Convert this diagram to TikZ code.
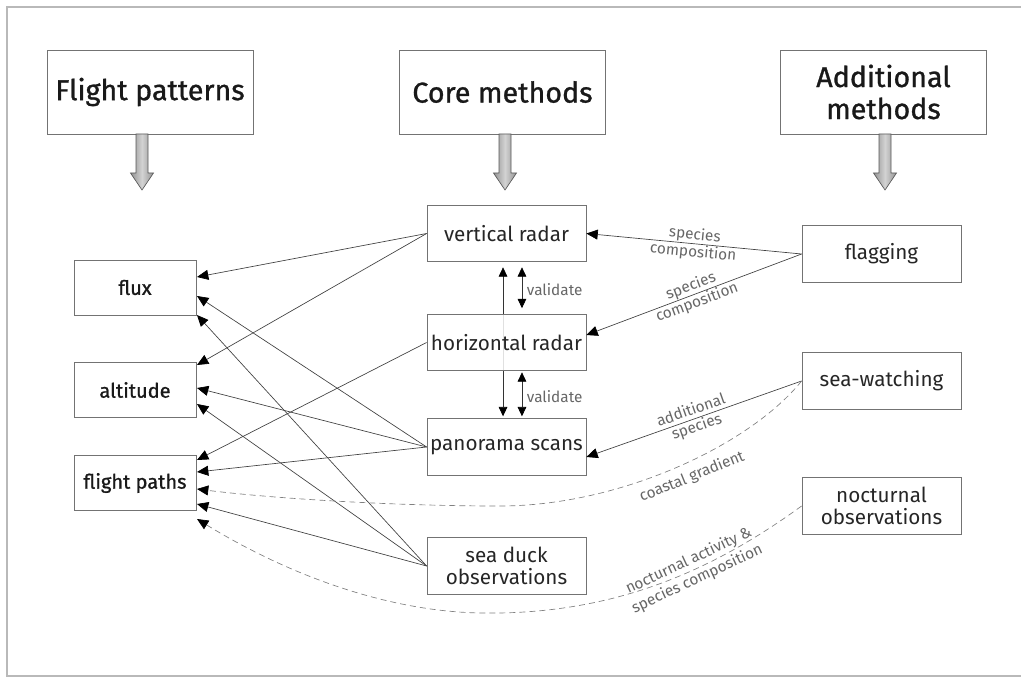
\documentclass[tikz,border=0pt]{standalone}
\usepackage{fontspec}
\setmainfont{Fira Sans}
\newfontfamily\headfont{Fira Sans}[FakeBold=1.0]
\usetikzlibrary{arrows.meta,calc,backgrounds}

\begin{document}
\begin{tikzpicture}[x=0.75pt,y=-0.75pt,
  header/.style={draw=black!55, line width=0.6pt, fill=white, inner sep=0pt,
    minimum width=154.5pt, minimum height=63pt, align=center, text=black!90,
    font=\headfont\fontsize{21.5}{24}\selectfont},
  pattern/.style={draw=black!55, line width=0.6pt, fill=white, inner sep=0pt,
    minimum width=91.5pt, minimum height=41.25pt, align=center, text=black!90,
    font=\headfont\fontsize{15}{18}\selectfont},
  method/.style={draw=black!55, line width=0.6pt, fill=white, inner sep=0pt,
    minimum width=119.25pt, minimum height=42.5pt, align=center, text=black!85,
    font=\fontsize{15.5}{17}\selectfont},
  lbl/.style={font=\fontsize{11.5}{13}\selectfont, text=black!60, align=center, inner sep=0.5pt},
  tip/.style={Triangle[length=8.5pt,width=7.5pt,color=black]},
  conn/.style={draw=black!75, line width=0.5pt, -{Triangle[length=8.5pt,width=7.5pt,color=black]}},
  dashconn/.style={draw=black!50, line width=0.5pt, dash pattern=on 4.5pt off 3pt,
    -{Triangle[length=8.5pt,width=7.5pt,color=black]}},
  valarrow/.style={draw=black!80, line width=0.5pt,
    {Triangle[length=7pt,width=6.5pt,color=black]}-{Triangle[length=7pt,width=6.5pt,color=black]}},
  blockarrow/.style={left color=gray!85, right color=gray!85, middle color=gray!35,
    draw=black!65, line width=0.5pt}
]
\useasboundingbox (0,0) rectangle (1021,677);

% outer frame
\draw[gray!55, line width=0.9pt] (1022,7) -- (7,7) -- (7,676) -- (1022,676);

% column headers
\node[header] (hfp) at (150,92)   {Flight patterns};
\node[header] (hcm) at (502.5,92) {Core methods};
\node[header] (ham) at (883.5,92) {Additional\\methods};

% shaded block arrows below the headers
\foreach \cx in {142,505,885}{
  \shadedraw[blockarrow] (\cx-6,134) -- (\cx+6,134) -- (\cx+6,173) -- (\cx+11.5,173)
    -- (\cx,190) -- (\cx-11.5,173) -- (\cx-6,173) -- cycle;
}

% flight pattern boxes
\node[pattern] (flux) at (135,287.5) {flux};
\node[pattern] (alt)  at (135,390)   {altitude};
\node[pattern] (fp)   at (135,483)   {flight paths};

% core method boxes
\node[method] (vr) at (506.5,233.5) {vertical radar};
\node[method, fill opacity=0.85, text opacity=1] (hr) at (506.5,342.5) {horizontal radar};
\node[method] (ps) at (506.5,447)   {panorama scans};
\node[method] (sd) at (506.5,566)   {sea duck\\observations};

% additional method boxes
\node[method] (fl) at (881.5,254) {flagging};
\node[method] (sw) at (881.5,381) {sea-watching};
\node[method] (no) at (881.5,506) {nocturnal\\observations};

% arrow end points on the right side of the flight pattern boxes
\coordinate (fx1) at (197,277);
\coordinate (fx2) at (197,296);
\coordinate (fx3) at (197,315);
\coordinate (al1) at (197,365);
\coordinate (al2) at (197,388);
\coordinate (al3) at (197,404);
\coordinate (fp1) at (197,460);
\coordinate (fp2) at (197,472);
\coordinate (fp3) at (197,489);
\coordinate (fp4) at (197,504);
\coordinate (fp5) at (197,519);

% core methods feeding the flight patterns
\draw[conn] (vr.west) -- (fx1);
\draw[conn] (vr.west) -- (al1);
\draw[conn] (hr.west) -- (fp1);
\draw[conn] (ps.west) -- (fx2);
\draw[conn] (ps.west) -- (al2);
\draw[conn] (ps.west) -- (fp2);
\draw[conn] (sd.west) -- (fx3);
\draw[conn] (sd.west) -- (al3);
\draw[conn] (sd.west) -- (fp4);

% validation between the radar systems and the panorama scans
\begin{scope}[on background layer]
  \draw[valarrow] ([xshift=-2.6pt,yshift=-3.8pt]vr.south) -- ([xshift=-2.6pt,yshift=1.5pt]ps.north);
\end{scope}
\draw[valarrow] ([xshift=11.6pt,yshift=-3.8pt]vr.south) -- ([xshift=11.6pt,yshift=4.2pt]hr.north);
\draw[valarrow] ([xshift=11.6pt,yshift=-0.8pt]hr.south) -- ([xshift=11.6pt,yshift=1.5pt]ps.north);
\node[lbl, anchor=west] (v1) at (526,290) {validate};
\node[lbl, anchor=west] (v2) at (526,397) {validate};

% additional methods feeding the core methods
\draw[conn] (fl.west) -- node[lbl, sloped, midway] {species\\composition} (vr.east);
\draw[conn] (fl.west) -- node[lbl, sloped, midway] {species\\composition} ([yshift=5.6pt]hr.east);
\draw[conn] (sw.west) -- node[lbl, sloped, midway] {additional\\species} ([yshift=-7.5pt]ps.east);

% additional methods feeding the flight paths directly
\draw[dashconn] (sw.west) .. controls (750,445) and (620,506) .. (500,506)
  .. controls (380,506) and (260,497) .. (fp3);
\node[lbl, rotate=22] (cg) at (692,477) {coastal gradient};

\draw[dashconn] (no.west) .. controls (700,580) and (600,615) .. (480,613)
  .. controls (380,611) and (280,570) .. (fp5);
\node[lbl, rotate=25] (na) at (693,570) {nocturnal activity \&\\[2pt]species composition};
\end{tikzpicture}
\end{document}
